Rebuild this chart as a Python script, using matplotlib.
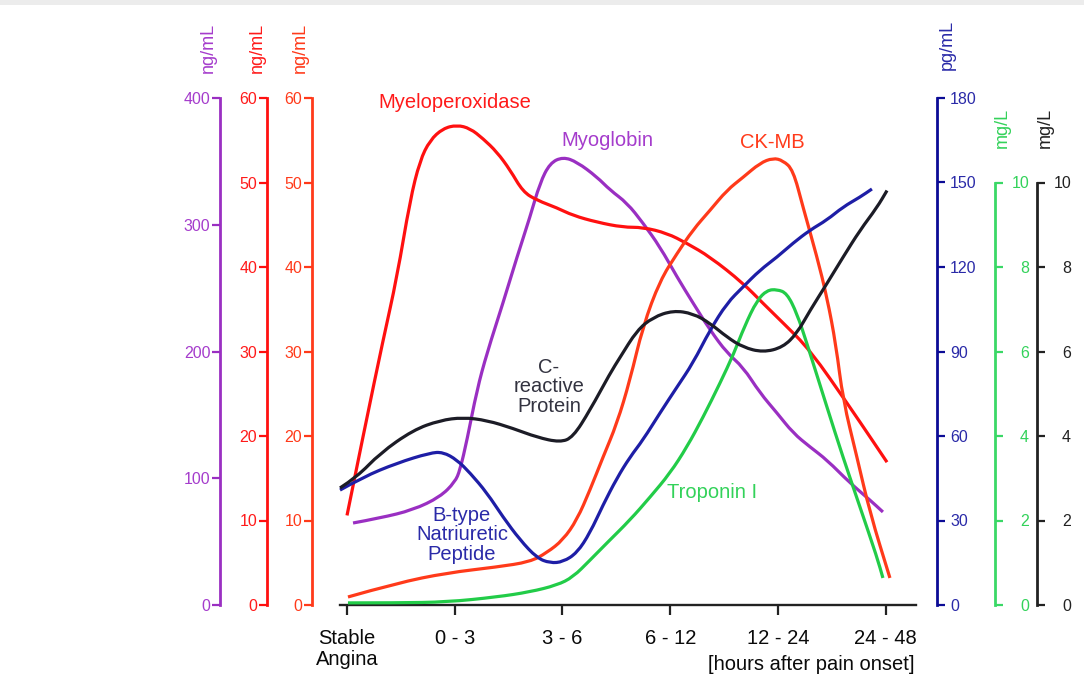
import matplotlib
matplotlib.use('Agg')
import matplotlib.pyplot as plt
from matplotlib.patches import Rectangle, PathPatch
from matplotlib.path import Path

plt.rcParams['font.family'] = ['Liberation Sans', 'DejaVu Sans']

# ---------------- data (category units on x, axis units on y) ----------------
categories = ['Stable\nAngina', '0 - 3', '3 - 6', '6 - 12', '12 - 24', '24 - 48']

mpo_x = [0.0, 0.167, 0.334, 0.464, 0.585, 0.677, 0.770, 0.891, 1.021, 1.142, 1.262, 1.392,
         1.513, 1.633, 1.763, 1.949, 2.097, 2.320, 2.561, 2.747, 2.970, 3.155, 3.369, 3.675,
         3.861, 4.046, 4.297, 4.668, 4.854, 5.012]
mpo_y = [10.6, 21.1, 31.3, 38.8, 47.9, 52.6, 55.0, 56.4, 56.8, 56.4, 55.2, 53.6,
         51.5, 48.9, 47.9, 47.0, 46.1, 45.3, 44.7, 44.7, 44.0, 42.8, 41.2, 38.1,
         35.7, 33.4, 30.2, 23.4, 19.9, 16.9]

myo_x = [0.056, 0.306, 0.613, 0.863, 1.002, 1.049, 1.114, 1.206, 1.299, 1.448, 1.578, 1.698,
         1.791, 1.884, 2.005, 2.135, 2.320, 2.441, 2.599, 2.747, 2.905, 3.063, 3.211, 3.369,
         3.527, 3.675, 3.833, 3.991, 4.140, 4.297, 4.455, 4.668, 4.854, 4.974]
myo_y = [64.7, 68.6, 75.0, 85.2, 97.0, 106.5, 130.2, 169.6, 198.8, 238.3, 274.6, 306.1,
         333.0, 348.7, 353.5, 349.5, 337.7, 327.4, 317.2, 301.4, 282.5, 258.8, 238.3, 217.0,
         198.8, 187.8, 167.3, 151.5, 135.7, 124.7, 114.4, 96.3, 82.8, 73.4]

ckmb_x = [0.009, 0.464, 0.928, 1.392, 1.698, 1.856, 2.005, 2.135, 2.255, 2.376, 2.506, 2.626,
          2.747, 2.905, 3.063, 3.211, 3.369, 3.527, 3.675, 3.833, 3.954, 4.046, 4.140, 4.232,
          4.362, 4.455, 4.538, 4.603, 4.733, 4.854, 5.039]
ckmb_y = [0.95, 2.6, 3.8, 4.5, 5.1, 6.2, 7.7, 10.1, 13.6, 17.5, 21.5, 26.6,
          33.0, 38.4, 41.6, 44.4, 46.7, 49.1, 50.6, 52.3, 52.9, 52.6, 51.5, 47.1,
          41.2, 36.4, 30.8, 24.3, 17.5, 10.9, 3.2]

bnp_x = [-0.065, 0.148, 0.464, 0.770, 0.891, 1.021, 1.142, 1.299, 1.448, 1.606, 1.763, 1.884,
         2.005, 2.135, 2.255, 2.376, 2.506, 2.626, 2.747, 2.905, 3.063, 3.211, 3.369, 3.527,
         3.675, 3.833, 3.991, 4.140, 4.297, 4.455, 4.603, 4.761, 4.872]
bnp_y = [40.8, 45.4, 50.4, 54.0, 54.3, 51.5, 46.9, 39.8, 31.2, 23.1, 16.7, 14.9,
         15.3, 18.5, 25.6, 35.5, 45.1, 52.5, 58.6, 68.2, 77.4, 85.9, 97.6, 107.2,
         112.9, 118.9, 123.5, 128.5, 133.1, 136.7, 141.3, 144.8, 147.7]

trop_x = [0.009, 0.464, 0.928, 1.392, 1.698, 1.949, 2.097, 2.255, 2.413, 2.626, 2.812, 2.998,
          3.155, 3.304, 3.462, 3.590, 3.690, 3.805, 3.898, 3.991, 4.083, 4.176, 4.269, 4.455,
          4.603, 4.761, 4.919, 4.974]
trop_y = [0.05, 0.05, 0.07, 0.19, 0.31, 0.47, 0.66, 1.06, 1.47, 2.01, 2.55, 3.12,
          3.74, 4.44, 5.25, 5.95, 6.60, 7.21, 7.45, 7.47, 7.38, 6.90, 6.19, 4.68,
          3.50, 2.32, 1.13, 0.64]

crp_x = [-0.065, 0.093, 0.306, 0.613, 0.863, 1.077, 1.299, 1.541, 1.763, 1.977, 2.097, 2.255,
         2.441, 2.534, 2.691, 2.840, 3.026, 3.211, 3.369, 3.527, 3.675, 3.861, 4.046, 4.176,
         4.297, 4.455, 4.603, 4.761, 4.919, 5.012]
crp_y = [2.77, 3.03, 3.59, 4.14, 4.37, 4.44, 4.37, 4.18, 3.97, 3.85, 3.97, 4.61,
         5.48, 5.86, 6.50, 6.81, 6.97, 6.90, 6.67, 6.34, 6.10, 5.98, 6.10, 6.43,
         6.97, 7.61, 8.23, 8.87, 9.41, 9.81]

purple_ticks = [0, 100, 200, 300, 400]
red_ticks = [0, 10, 20, 30, 40, 50, 60]
blue_ticks = [0, 30, 60, 90, 120, 150, 180]
mg_ticks = [0, 2, 4, 6, 8, 10]

# ---------------- colours ----------------
C_PURPLE = '#9a2fc2'
C_RED = '#ff1010'
C_ORANGE = '#ff3a1a'
C_BLUE = '#1e1ea6'
C_GREEN = '#22cc48'
C_BLACK = '#1c1c26'

W, H = 1084, 694
fig = plt.figure(figsize=(W / 100, H / 100), dpi=100)
fig.patch.set_facecolor('white')
fig.add_artist(Rectangle((0, 1 - 5 / H), 1, 5 / H, transform=fig.transFigure,
                         color='#ececec', lw=0))


def fx(px):
    return px / W


def fy(py):
    return 1 - py / H


L, R, T, B = 340, 916, 98, 605
ax = fig.add_axes([fx(L), fy(B), (R - L) / W, (B - T) / H])
ax.set_xlim(-0.065, 5.281)
ax.set_ylim(0, 400)
for s in ['top', 'right', 'left']:
    ax.spines[s].set_visible(False)
ax.spines['bottom'].set_color('#222222')
ax.spines['bottom'].set_linewidth(1.7)
ax.set_yticks([])
ax.set_xticks(range(len(categories)))
ax.set_xticklabels(categories, fontsize=14.5, color='#0a0a0a', linespacing=1.15)
ax.tick_params(axis='x', direction='out', length=7, width=1.6, pad=10, color='#222222')
ax.patch.set_alpha(0)


def px2pt(px):
    return px * 0.72


def make_axis(side, offset_px, ylim, ticks, bound, color, tcolor, ha=None, pad=1.5):
    tw = ax.twinx()
    tw.set_ylim(*ylim)
    for s in ['top', 'bottom', 'left', 'right']:
        tw.spines[s].set_visible(False)
    sp = tw.spines[side]
    sp.set_visible(True)
    sp.set_position(('outward', px2pt(offset_px)))
    sp.set_bounds(*bound)
    sp.set_color(color)
    sp.set_linewidth(2.0)
    tw.yaxis.set_ticks_position(side)
    tw.yaxis.set_label_position(side)
    tw.set_yticks(ticks)
    tw.set_yticklabels([str(t) for t in ticks])
    tw.tick_params(axis='y', direction='out', length=5.5, width=1.6, colors=color,
                   labelcolor=tcolor, labelsize=11.5, pad=pad)
    if ha:
        for lab in tw.get_yticklabels():
            lab.set_ha(ha)
    tw.patch.set_alpha(0)
    return tw


ax_purple = make_axis('left', L - 220, (0, 400), purple_ticks, (0, 400), C_PURPLE, '#a53ccc')
ax_red = make_axis('left', L - 267, (0, 60), red_ticks, (0, 60), C_RED, '#ff1a1a')
ax_orange = make_axis('left', L - 312, (0, 60), red_ticks, (0, 60), C_ORANGE, '#ff3a1a')
ax_blue = make_axis('right', 937 - R, (0, 180), blue_ticks, (0, 180), '#0c0c96', '#2a2aa8', pad=4)
ax_green = make_axis('right', 995 - R, (0, 12), mg_ticks, (0, 10), '#3ad866', '#33d25a',
                     ha='right', pad=19)
ax_black = make_axis('right', 1037 - R, (0, 12), mg_ticks, (0, 10), '#222222', '#222222',
                     ha='right', pad=19)


def smooth_curve(axis, xs, ys, color, lw=2.3):
    # quadratic Bezier smoothing through the read-off points (drawn in data coords)
    verts = [(xs[0], ys[0])]
    codes = [Path.MOVETO]
    for i in range(1, len(xs) - 1):
        verts.append((xs[i], ys[i]))
        verts.append(((xs[i] + xs[i + 1]) / 2, (ys[i] + ys[i + 1]) / 2))
        codes += [Path.CURVE3, Path.CURVE3]
    verts.append((xs[-1], ys[-1]))
    codes.append(Path.LINETO)
    patch = PathPatch(Path(verts, codes), facecolor='none', edgecolor=color, lw=lw,
                      capstyle='butt', joinstyle='round', transform=axis.transData,
                      clip_on=False)
    axis.add_patch(patch)


smooth_curve(ax_purple, myo_x, myo_y, C_PURPLE)
smooth_curve(ax_red, mpo_x, mpo_y, C_RED)
smooth_curve(ax_orange, ckmb_x, ckmb_y, C_ORANGE)
smooth_curve(ax_blue, bnp_x, bnp_y, C_BLUE)
smooth_curve(ax_green, trop_x, trop_y, C_GREEN)
smooth_curve(ax_black, crp_x, crp_y, C_BLACK)

# unit labels
unit_fs = 13
fig.text(fx(208), fy(48), 'ng/mL', rotation=90, ha='center', va='center', color='#a53ccc', fontsize=unit_fs)
fig.text(fx(257), fy(48), 'ng/mL', rotation=90, ha='center', va='center', color='#ff1a1a', fontsize=unit_fs)
fig.text(fx(300), fy(48), 'ng/mL', rotation=90, ha='center', va='center', color='#ff3a1a', fontsize=unit_fs)
fig.text(fx(947), fy(45), 'pg/mL', rotation=90, ha='center', va='center', color='#2a2aa8', fontsize=unit_fs)
fig.text(fx(1002), fy(128), 'mg/L', rotation=90, ha='center', va='center', color='#33d25a', fontsize=unit_fs)
fig.text(fx(1045), fy(128), 'mg/L', rotation=90, ha='center', va='center', color='#222222', fontsize=unit_fs)

# curve labels
lab_fs = 14.5
fig.text(fx(455), fy(103), 'Myeloperoxidase', ha='center', va='center', color='#ff1a1a', fontsize=lab_fs)
fig.text(fx(607), fy(140), 'Myoglobin', ha='center', va='center', color='#a53ccc', fontsize=lab_fs)
fig.text(fx(772), fy(142), 'CK-MB', ha='center', va='center', color='#ff3a1a', fontsize=lab_fs)
fig.text(fx(549), fy(387), 'C-\nreactive\nProtein', ha='center', va='center', color='#333340',
         fontsize=lab_fs, linespacing=1.05)
fig.text(fx(462), fy(535), 'B-type\nNatriuretic\nPeptide', ha='center', va='center', color='#2a2aa8',
         fontsize=lab_fs, linespacing=1.05)
fig.text(fx(712), fy(493), 'Troponin I', ha='center', va='center', color='#33d25a', fontsize=lab_fs)

fig.text(fx(914), fy(664), '[hours after pain onset]', ha='right', va='center', color='#0a0a0a',
         fontsize=14.5)

fig.savefig('out.png', dpi=100)
